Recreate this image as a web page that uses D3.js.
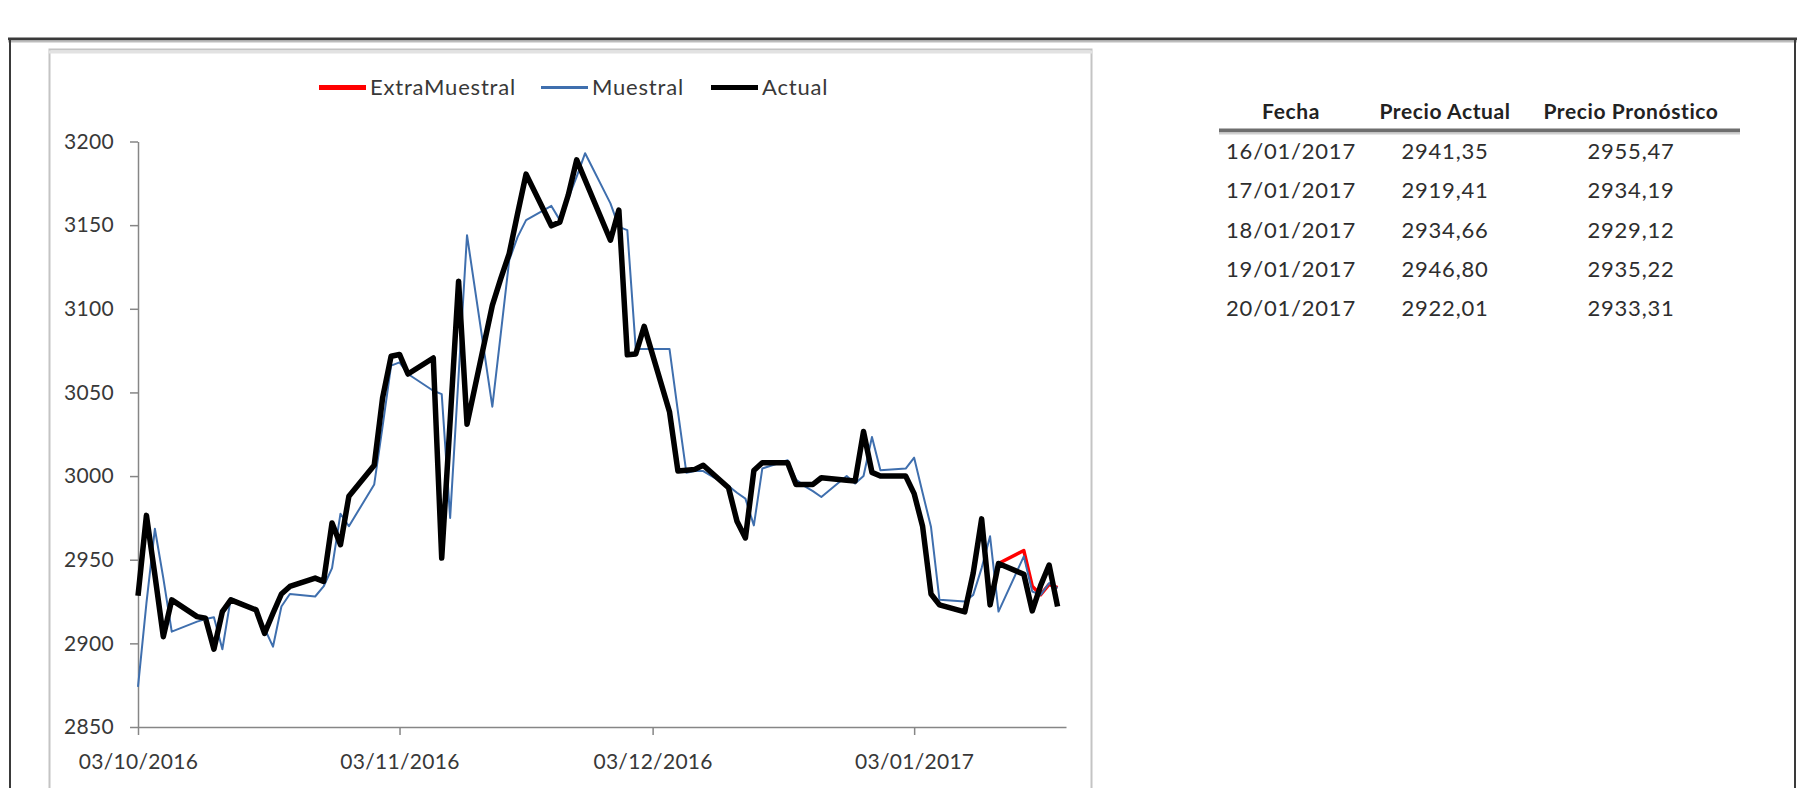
<!DOCTYPE html>
<html>
<head>
<meta charset="utf-8">
<script src="https://cdn.jsdelivr.net/npm/d3@7"></script>
<style>
  html, body { margin: 0; padding: 0; background: #ffffff; }
  svg { display: block; font-family: Lato, "Open Sans", sans-serif; }
</style>
</head>
<body>
<svg id="chart" width="1804" height="788"></svg>
<script>
// ---------- DATA ----------
const dates = [
  "2016-10-03","2016-10-04","2016-10-05","2016-10-06","2016-10-07",
  "2016-10-10","2016-10-11","2016-10-12","2016-10-13","2016-10-14",
  "2016-10-17","2016-10-18","2016-10-19","2016-10-20","2016-10-21",
  "2016-10-24","2016-10-25","2016-10-26","2016-10-27","2016-10-28",
  "2016-10-31","2016-11-01","2016-11-02","2016-11-03","2016-11-04",
  "2016-11-07","2016-11-08","2016-11-09","2016-11-10","2016-11-11",
  "2016-11-14","2016-11-15","2016-11-16","2016-11-17","2016-11-18",
  "2016-11-21","2016-11-22","2016-11-23","2016-11-24","2016-11-25",
  "2016-11-28","2016-11-29","2016-11-30","2016-12-01","2016-12-02",
  "2016-12-05","2016-12-06","2016-12-07","2016-12-08","2016-12-09",
  "2016-12-12","2016-12-13","2016-12-14","2016-12-15","2016-12-16",
  "2016-12-19","2016-12-20","2016-12-21","2016-12-22","2016-12-23",
  "2016-12-26","2016-12-27","2016-12-28","2016-12-29","2016-12-30",
  "2017-01-02","2017-01-03","2017-01-04","2017-01-05","2017-01-06",
  "2017-01-09","2017-01-10","2017-01-11","2017-01-12","2017-01-13",
  "2017-01-16","2017-01-17","2017-01-18","2017-01-19","2017-01-20"
];
const actualValues = [
  2928.5, 2976.5, 2941, 2904, 2926,
  2916, 2915, 2896.5, 2919, 2926,
  2920, 2906, 2918, 2929.5, 2934,
  2939, 2937, 2972, 2959, 2988,
  3006.5, 3047, 3071.6, 3072.7, 3061,
  3070.6, 2951, 3033, 3116.5, 3031,
  3102, 3118, 3133, 3157, 3180.5,
  3149.6, 3151.8, 3168, 3189, 3177,
  3141, 3159, 3072.5, 3073, 3089.5,
  3038.5, 3003, 3003.5, 3004, 3006.5,
  2993, 2973, 2963, 3003.3, 3008,
  3008, 2995, 2995, 2995, 2999,
  2997.5, 2997, 3026.6, 3002.2, 3000,
  3000, 2989.5, 2970, 2929.5, 2923,
  2918.8, 2942, 2974.4, 2923, 2947.7,
  2941.35, 2919.41, 2934.66, 2946.80, 2922.01
];
const muestralValues = [
  2874, 2924, 2968.5, 2939, 2907,
  2913, 2914.5, 2915.6, 2896.5, 2927,
  2920.5, 2909, 2898, 2922, 2929.5,
  2928, 2934, 2945, 2977.5, 2970,
  2995, 3030, 3066, 3068, 3061,
  3051, 3049, 2975, 3060, 3144,
  3041.5, 3085, 3129, 3143, 3153,
  3161.5, 3153, 3166, 3179, 3193,
  3163, 3149, 3147, 3076, 3076,
  3076, 3038.5, 3002, 3003, 3003,
  2994, 2990, 2986.5, 2970.5, 3004.5,
  3009.5, 2998, 2994, 2991, 2987.5,
  3000, 2995.5, 3000, 3023.4, 3003.5,
  3004.5, 3011, 2990, 2969.5, 2926,
  2925, 2929, 2945, 2964, 2919,
  2952, 2931, 2929, 2936, 2933
];
const extraDates  = ["2017-01-13","2017-01-16","2017-01-17","2017-01-18","2017-01-19","2017-01-20"];
const extraValues = [2947.7, 2955.47, 2934.19, 2929.12, 2935.22, 2933.31];

const yTicks = [2850, 2900, 2950, 3000, 3050, 3100, 3150, 3200];
const xTickDates = ["2016-10-03","2016-11-03","2016-12-03","2017-01-03"];
const xDomain = ["2016-10-03","2017-01-21"];

const seriesNames = ["ExtraMuestral", "Muestral", "Actual"];

const tableHeaders = ["Fecha", "Precio Actual", "Precio Pronóstico"];
const tableFechas = ["16/01/2017","17/01/2017","18/01/2017","19/01/2017","20/01/2017"];
const tableActual = ["2941,35","2919,41","2934,66","2946,80","2922,01"];
const tablePronostico = ["2955,47","2934,19","2929,12","2935,22","2933,31"];

// ---------- DRAW ----------
const parse = d3.utcParse("%Y-%m-%d");
const svg = d3.select("#chart");

svg.append("rect").attr("width", 1804).attr("height", 788).attr("fill", "#ffffff");

// outer border
svg.append("line").attr("x1", 8).attr("x2", 1797).attr("y1", 39).attr("y2", 39)
  .attr("stroke", "#3a3a3a").attr("stroke-width", 3);
svg.append("line").attr("x1", 8).attr("x2", 1797).attr("y1", 41.5).attr("y2", 41.5)
  .attr("stroke", "#bdbdbd").attr("stroke-width", 2);
svg.append("line").attr("x1", 10).attr("x2", 10).attr("y1", 38).attr("y2", 800)
  .attr("stroke", "#3a3a3a").attr("stroke-width", 2);
svg.append("line").attr("x1", 1795).attr("x2", 1795).attr("y1", 38).attr("y2", 800)
  .attr("stroke", "#3a3a3a").attr("stroke-width", 2);

// chart area frame
svg.append("rect").attr("x", 49.5).attr("y", 49.5).attr("width", 1042).attr("height", 800)
  .attr("fill", "none").attr("stroke", "#c4c4c4").attr("stroke-width", 2);
svg.append("line").attr("x1", 49).attr("x2", 1092).attr("y1", 52).attr("y2", 52)
  .attr("stroke", "#e2e2e2").attr("stroke-width", 3);

const x = d3.scaleUtc().domain(xDomain.map(parse)).range([138, 1066]);
const y = d3.scaleLinear().domain([2850, 3200]).range([727, 141.5]);

const textColor = "#383838";
const axisColor = "#868686";

// y axis
const gy = svg.append("g").attr("transform", "translate(138,0)")
  .call(d3.axisLeft(y).tickValues(yTicks).tickSize(8).tickSizeOuter(0).tickPadding(16).tickFormat(d3.format("d")));
gy.select(".domain").attr("stroke", axisColor).attr("stroke-width", 1.5);
gy.selectAll(".tick line").attr("stroke", axisColor).attr("stroke-width", 1.5);
gy.selectAll(".tick text").attr("fill", textColor).attr("font-size", 21).attr("font-family", "Lato")
  .attr("letter-spacing", 0.3);

// x axis
const gx = svg.append("g").attr("transform", "translate(0,727)")
  .call(d3.axisBottom(x).tickValues(xTickDates.map(parse)).tickSize(8).tickSizeOuter(0).tickPadding(19)
    .tickFormat(d3.utcFormat("%d/%m/%Y")));
gx.select(".domain").attr("stroke", axisColor).attr("stroke-width", 1.5);
gx.selectAll(".tick line").attr("stroke", axisColor).attr("stroke-width", 1.5);
gx.selectAll(".tick text").attr("fill", textColor).attr("font-size", 21).attr("font-family", "Lato")
  .attr("letter-spacing", 0.3);

// lines
const line = d3.line().x(d => x(d[0])).y(d => y(d[1]));
const actualData = dates.map((d, i) => [parse(d), actualValues[i]]);
const muestralData = dates.map((d, i) => [parse(d), muestralValues[i]]);
const extraData = extraDates.map((d, i) => [parse(d), extraValues[i]]);

const colors = { "ExtraMuestral": "#ff0000", "Muestral": "#3f6fae", "Actual": "#000000" };
const widths = { "ExtraMuestral": 3.5, "Muestral": 2, "Actual": 5.5 };

svg.append("path").datum(extraData).attr("d", line).attr("fill", "none")
  .attr("stroke", colors.ExtraMuestral).attr("stroke-width", widths.ExtraMuestral).attr("stroke-linejoin", "round");
svg.append("path").datum(muestralData).attr("d", line).attr("fill", "none")
  .attr("stroke", colors.Muestral).attr("stroke-width", widths.Muestral).attr("stroke-linejoin", "round");
svg.append("path").datum(actualData).attr("d", line).attr("fill", "none")
  .attr("stroke", colors.Actual).attr("stroke-width", widths.Actual).attr("stroke-linejoin", "round");

// legend
const legendX = [319, 541, 711];
const legend = svg.append("g");
seriesNames.forEach((name, i) => {
  legend.append("line").attr("x1", legendX[i]).attr("x2", legendX[i] + 47)
    .attr("y1", 87.5).attr("y2", 87.5)
    .attr("stroke", colors[name]).attr("stroke-width", i === 1 ? 3 : 5);
  legend.append("text").attr("x", legendX[i] + 51).attr("y", 87.5).attr("dy", "0.35em")
    .attr("fill", textColor).attr("font-size", 22).attr("letter-spacing", 0.8)
    .attr("font-family", "Lato").text(name);
});

// table
const colX = [1291, 1445, 1631];
const tbl = svg.append("g").attr("font-family", "Lato");
tableHeaders.forEach((h, i) => {
  tbl.append("text").attr("x", colX[i]).attr("y", 112).attr("dy", "0.35em")
    .attr("text-anchor", "middle").attr("font-weight", "bold").attr("font-size", 21)
    .attr("letter-spacing", 0.6).attr("fill", "#222222").text(h);
});
tbl.append("line").attr("x1", 1219).attr("x2", 1740).attr("y1", 130.5).attr("y2", 130.5)
  .attr("stroke", "#6e6e6e").attr("stroke-width", 4);
tbl.append("line").attr("x1", 1219).attr("x2", 1740).attr("y1", 133.5).attr("y2", 133.5)
  .attr("stroke", "#cfcfcf").attr("stroke-width", 2);
const rowY = [151, 190.5, 230, 269.5, 308.5];
tableFechas.forEach((f, r) => {
  [f, tableActual[r], tablePronostico[r]].forEach((v, i) => {
    tbl.append("text").attr("x", colX[i]).attr("y", rowY[r]).attr("dy", "0.35em")
      .attr("text-anchor", "middle").attr("font-size", 22).attr("letter-spacing", 0.8)
      .attr("fill", "#2e2e2e").text(v);
  });
});
</script>
</body>
</html>
